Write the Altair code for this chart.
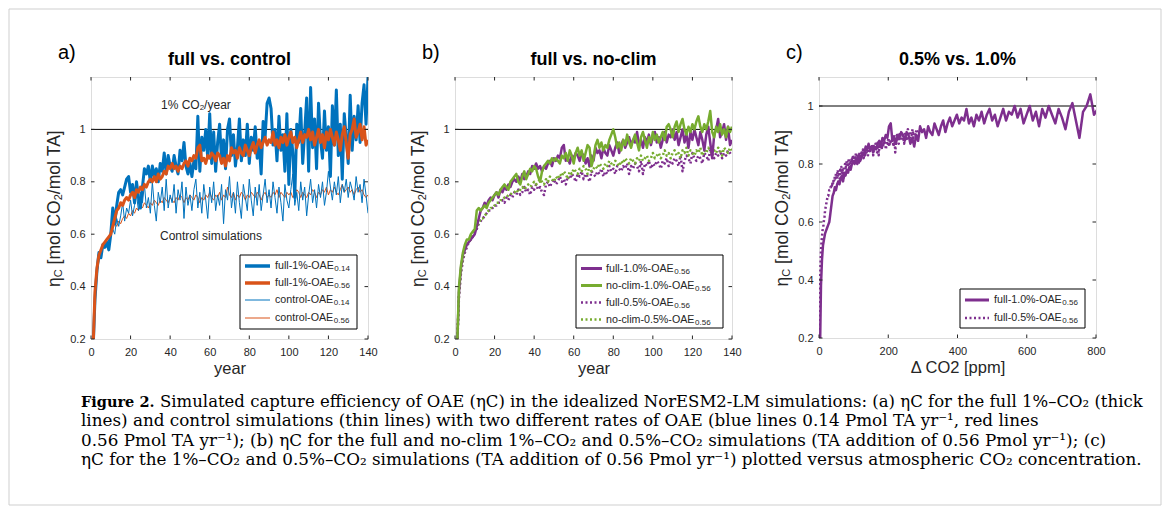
import altair as alt
import pandas as pd

# ---------------- data ----------------
years = list(range(1, 141))

full_1pct_oae014 = [
    0.15, 0.35, 0.46, 0.53, 0.51, 0.56, 0.55, 0.57, 0.54, 0.60,
    0.70, 0.64, 0.71, 0.76, 0.77, 0.75, 0.78, 0.81, 0.82, 0.76,
    0.79, 0.72, 0.80, 0.74, 0.70, 0.78, 0.85, 0.83, 0.86, 0.80,
    0.86, 0.82, 0.85, 0.80, 0.87, 0.84, 0.91, 0.83, 0.90, 0.86,
    0.84, 0.90, 0.86, 0.83, 0.92, 0.88, 0.95, 0.86, 0.83, 0.87,
    0.82, 0.88, 0.85, 1.05, 0.84, 0.97, 0.92, 1.00, 0.89, 1.06,
    0.87, 0.99, 0.84, 0.95, 1.02, 0.88, 0.96, 0.85, 1.00, 1.04,
    0.90, 0.98, 0.86, 0.93, 1.04, 0.88, 0.96, 0.90, 1.02, 0.87,
    0.97, 0.92, 1.01, 0.89, 0.95, 0.83, 1.03, 0.97, 1.10, 1.12,
    1.08, 0.94, 1.00, 0.88, 1.05, 0.92, 0.98, 0.84, 1.06, 0.79,
    1.00, 0.91, 0.74, 1.02, 0.95, 1.08, 0.87, 0.99, 1.12, 0.84,
    1.16, 0.93, 1.04, 0.85, 1.10, 0.96, 0.89, 1.07, 0.92, 1.01,
    0.82, 1.09, 0.94, 1.15, 0.90, 1.02, 0.81, 1.06, 0.97, 0.87,
    1.13, 0.92, 1.05, 0.96, 1.09, 0.95, 1.10, 1.17, 1.02, 1.20,
]

full_1pct_oae056 = [
    0.15, 0.38, 0.47, 0.52, 0.54, 0.56, 0.57, 0.58, 0.59, 0.60,
    0.63, 0.66, 0.69, 0.70, 0.72, 0.71, 0.73, 0.74, 0.73, 0.75,
    0.76, 0.74, 0.77, 0.76, 0.78, 0.77, 0.79, 0.78, 0.80, 0.81,
    0.80, 0.82, 0.80, 0.83, 0.81, 0.82, 0.84, 0.83, 0.86, 0.85,
    0.87, 0.85, 0.86, 0.84, 0.86, 0.85, 0.87, 0.88, 0.86, 0.89,
    0.88, 0.90, 0.89, 0.93, 0.94, 0.88, 0.89, 0.87, 0.90, 0.89,
    0.91, 0.90, 0.88, 0.91, 0.90, 0.87, 0.89, 0.86, 0.90, 0.88,
    0.93, 0.91, 0.92, 0.89, 0.93, 0.91, 0.90, 0.94, 0.92, 0.90,
    0.93, 0.95, 0.91, 0.94, 0.96, 0.93, 0.95, 0.97, 0.94, 0.96,
    0.95, 0.99, 0.94, 0.96, 0.93, 0.97, 0.95, 0.98, 0.94, 0.97,
    0.99, 0.95, 0.97, 0.93, 0.96, 0.99, 0.95, 0.98, 0.97, 1.00,
    0.96, 0.99, 0.94, 0.97, 1.00, 0.95, 0.98, 0.93, 0.99, 0.96,
    1.00, 0.97, 0.94, 0.99, 0.96, 0.92, 0.98, 1.01, 0.95, 0.89,
    0.98, 1.00, 1.04, 0.97, 0.99, 1.02, 0.96, 1.01, 0.94, 0.96,
]

control_oae014 = [
    0.15, 0.36, 0.45, 0.50, 0.52, 0.55, 0.56, 0.55, 0.58, 0.60,
    0.62, 0.60, 0.66, 0.63, 0.67, 0.72, 0.65, 0.70, 0.68, 0.73,
    0.67, 0.71, 0.75, 0.69, 0.76, 0.72, 0.79, 0.70, 0.74, 0.68,
    0.80, 0.71, 0.65, 0.76, 0.72, 0.78, 0.69, 0.81, 0.70, 0.75,
    0.72, 0.79, 0.68, 0.77, 0.73, 0.80, 0.66, 0.78, 0.71, 0.75,
    0.69, 0.77, 0.81, 0.70, 0.76, 0.68, 0.79, 0.73, 0.66, 0.78,
    0.72, 0.80, 0.69, 0.75, 0.71, 0.79, 0.64, 0.77, 0.73, 0.82,
    0.70, 0.76, 0.68, 0.80, 0.72, 0.66, 0.79, 0.74, 0.69, 0.81,
    0.73, 0.67, 0.78, 0.71, 0.79, 0.69, 0.75, 0.81, 0.72, 0.77,
    0.70, 0.80, 0.74, 0.68, 0.78, 0.72, 0.65, 0.79, 0.73, 0.70,
    0.77, 0.83, 0.71, 0.76, 0.69, 0.80, 0.73, 0.78, 0.67, 0.75,
    0.81, 0.72, 0.77, 0.70, 0.79, 0.74, 0.80, 0.71, 0.76, 0.84,
    0.78, 0.73, 0.80, 0.75, 0.82, 0.72, 0.79, 0.76, 0.81, 0.74,
    0.80, 0.77, 0.73, 0.82, 0.76, 0.79, 0.72, 0.81, 0.75, 0.68,
]

control_oae056 = [
    0.15, 0.37, 0.46, 0.51, 0.54, 0.56, 0.57, 0.58, 0.59, 0.60,
    0.62, 0.64, 0.63, 0.65, 0.64, 0.66, 0.67, 0.66, 0.68, 0.67,
    0.69, 0.68, 0.70, 0.69, 0.71, 0.70, 0.72, 0.71, 0.70, 0.72,
    0.71, 0.73, 0.72, 0.71, 0.73, 0.72, 0.74, 0.73, 0.72, 0.74,
    0.73, 0.72, 0.74, 0.73, 0.75, 0.74, 0.72, 0.74, 0.73, 0.75,
    0.74, 0.73, 0.75, 0.74, 0.72, 0.74, 0.73, 0.75, 0.74, 0.76,
    0.74, 0.73, 0.75, 0.74, 0.76, 0.73, 0.75, 0.74, 0.78, 0.75,
    0.74, 0.76, 0.73, 0.75, 0.74, 0.76, 0.75, 0.73, 0.75, 0.74,
    0.76, 0.75, 0.74, 0.76, 0.75, 0.73, 0.75, 0.76, 0.74, 0.75,
    0.74, 0.76, 0.75, 0.77, 0.74, 0.76, 0.75, 0.74, 0.76, 0.75,
    0.76, 0.74, 0.75, 0.77, 0.76, 0.74, 0.76, 0.75, 0.74, 0.76,
    0.75, 0.77, 0.76, 0.74, 0.76, 0.75, 0.77, 0.76, 0.78, 0.75,
    0.77, 0.76, 0.78, 0.76, 0.75, 0.77, 0.79, 0.76, 0.77, 0.78,
    0.76, 0.77, 0.75, 0.77, 0.78, 0.76, 0.77, 0.75, 0.74, 0.75,
]

noclim_1pct_oae056 = [
    0.15, 0.40, 0.48, 0.53, 0.56, 0.58, 0.58, 0.60, 0.61, 0.62,
    0.69, 0.70, 0.69, 0.70, 0.71, 0.70, 0.72, 0.73, 0.74, 0.75,
    0.76, 0.75, 0.77, 0.78, 0.79, 0.78, 0.77, 0.80, 0.81, 0.82,
    0.83, 0.80, 0.79, 0.82, 0.84, 0.81, 0.83, 0.85, 0.84, 0.86,
    0.85, 0.82, 0.80, 0.84, 0.86, 0.87, 0.88, 0.87, 0.89, 0.88,
    0.89, 0.88, 0.87, 0.90, 0.89, 0.91, 0.88, 0.92, 0.90, 0.87,
    0.91, 0.93, 0.90, 0.92, 0.88, 0.91, 0.94, 0.93, 0.86, 0.89,
    0.94, 0.96, 0.93, 0.95, 0.92, 0.94, 0.93, 0.96, 0.98, 1.00,
    0.97, 0.93, 0.95, 0.92, 0.96, 0.94, 0.98, 0.95, 0.93, 0.96,
    0.98, 0.95, 0.92, 0.97, 0.99, 0.96, 0.93, 0.97, 0.95, 0.99,
    0.96, 0.98, 0.95, 0.97, 0.99, 0.96, 1.01, 1.02, 1.00, 0.97,
    1.01, 1.03, 0.99, 1.02, 1.04, 1.00, 0.98, 1.01, 0.99, 1.02,
    1.00, 1.03, 1.05, 1.01, 0.99, 1.02, 1.00, 1.03, 1.07, 0.99,
    0.97, 1.01, 0.99, 1.02, 0.98, 1.00, 0.97, 1.01, 0.99, 1.01,
]

full_05pct_oae056 = [
    0.15, 0.36, 0.45, 0.50, 0.53, 0.55, 0.57, 0.58, 0.59, 0.61,
    0.62, 0.64, 0.65, 0.66, 0.67, 0.68, 0.69, 0.69, 0.70, 0.71,
    0.71, 0.72, 0.72, 0.73, 0.72, 0.74, 0.73, 0.75, 0.74, 0.76,
    0.75, 0.77, 0.75, 0.76, 0.78, 0.76, 0.77, 0.75, 0.78, 0.77,
    0.79, 0.77, 0.78, 0.76, 0.75, 0.79, 0.80, 0.78, 0.80, 0.81,
    0.79, 0.80, 0.82, 0.80, 0.81, 0.79, 0.82, 0.81, 0.83, 0.82,
    0.80, 0.83, 0.82, 0.84, 0.81, 0.83, 0.82, 0.80, 0.84, 0.83,
    0.82, 0.84, 0.83, 0.85, 0.82, 0.84, 0.83, 0.86, 0.84, 0.85,
    0.83, 0.86, 0.85, 0.84, 0.86, 0.85, 0.87, 0.83, 0.86, 0.85,
    0.87, 0.86, 0.84, 0.88, 0.83, 0.87, 0.86, 0.88, 0.85, 0.87,
    0.86, 0.88, 0.87, 0.85, 0.88, 0.87, 0.89, 0.86, 0.88, 0.87,
    0.89, 0.88, 0.86, 0.90, 0.84, 0.88, 0.90, 0.89, 0.87, 0.91,
    0.89, 0.88, 0.90, 0.89, 0.87, 0.91, 0.90, 0.88, 0.92, 0.90,
    0.89, 0.91, 0.90, 0.92, 0.89, 0.91, 0.90, 0.92, 0.91, 0.90,
]

noclim_05pct_oae056 = [
    0.15, 0.37, 0.46, 0.51, 0.54, 0.56, 0.57, 0.58, 0.60, 0.61,
    0.63, 0.64, 0.66, 0.66, 0.67, 0.68, 0.69, 0.70, 0.70, 0.71,
    0.72, 0.72, 0.73, 0.73, 0.74, 0.74, 0.75, 0.75, 0.76, 0.76,
    0.77, 0.76, 0.77, 0.78, 0.77, 0.78, 0.79, 0.78, 0.79, 0.80,
    0.79, 0.80, 0.81, 0.80, 0.79, 0.81, 0.80, 0.82, 0.81, 0.80,
    0.82, 0.81, 0.83, 0.82, 0.84, 0.83, 0.81, 0.84, 0.83, 0.85,
    0.84, 0.83, 0.85, 0.84, 0.86, 0.85, 0.83, 0.86, 0.84, 0.85,
    0.86, 0.85, 0.87, 0.86, 0.85, 0.87, 0.86, 0.88, 0.87, 0.86,
    0.88, 0.87, 0.86, 0.88, 0.87, 0.89, 0.88, 0.87, 0.89, 0.88,
    0.87, 0.89, 0.88, 0.90, 0.88, 0.89, 0.90, 0.88, 0.89, 0.91,
    0.89, 0.90, 0.91, 0.89, 0.90, 0.92, 0.90, 0.91, 0.89, 0.91,
    0.92, 0.90, 0.91, 0.89, 0.92, 0.91, 0.93, 0.90, 0.92, 0.91,
    0.90, 0.92, 0.91, 0.93, 0.90, 0.92, 0.91, 0.93, 0.92, 0.90,
    0.92, 0.91, 0.93, 0.92, 0.90, 0.93, 0.92, 0.91, 0.93, 0.92,
]

for arr in (full_1pct_oae014, full_1pct_oae056, control_oae014, control_oae056,
            noclim_1pct_oae056, full_05pct_oae056, noclim_05pct_oae056):
    assert len(arr) == len(years)

x_ticks_year = [0, 20, 40, 60, 80, 100, 120, 140]
x_ticks_co2 = [0, 200, 400, 600, 800]
y_ticks = [0.2, 0.4, 0.6, 0.8, 1.0]
ref_level = [1.0]
pi_co2 = 284.3                      # pre-industrial CO2 (ppm)
growth_1pct, growth_05pct = 1.01, 1.005

legend_a = [("full-1%-OAE", "0.14"), ("full-1%-OAE", "0.56"),
            ("control-OAE", "0.14"), ("control-OAE", "0.56")]
legend_b = [("full-1.0%-OAE", "0.56"), ("no-clim-1.0%-OAE", "0.56"),
            ("full-0.5%-OAE", "0.56"), ("no-clim-0.5%-OAE", "0.56")]
legend_c = [("full-1.0%-OAE", "0.56"), ("full-0.5%-OAE", "0.56")]

caption_bold = "Figure 2."
caption_lines = [
    "Simulated capture efficiency of OAE (ηC) in the idealized NorESM2-LM simulations: (a) ηC for the full 1%–CO₂ (thick",
    "lines) and control simulations (thin lines) with two different rates of OAE (blue lines 0.14 Pmol TA yr⁻¹, red lines",
    "0.56 Pmol TA yr⁻¹); (b) ηC for the full and no-clim 1%–CO₂ and 0.5%–CO₂ simulations (TA addition of 0.56 Pmol yr⁻¹); (c)",
    "ηC for the 1%–CO₂ and 0.5%–CO₂ simulations (TA addition of 0.56 Pmol yr⁻¹) plotted versus atmospheric CO₂ concentration.",
]

# ---------------- styling ----------------
BLUE, ORANGE, PURPLE, GREEN = "#0072BD", "#D95319", "#7E2F8E", "#77AC30"
INK = "#262626"
FONT = "Liberation Sans"
SERIF = "DejaVu Serif"
W = 277
DOT = [2, 2.5]
NB = "\u00a0"

ARIAL = {' ': 278, NB: 278, '%': 889, '-': 333, '.': 278, '/': 278, '[': 278, ']': 278,
         'A': 667, 'C': 722, 'E': 667, 'O': 778, 'T': 611,
         'a': 556, 'c': 500, 'e': 556, 'f': 278, 'i': 222, 'l': 222, 'm': 833,
         'n': 556, 'o': 556, 'r': 333, 's': 500, 't': 278, 'u': 556, 'y': 500,
         'η': 556}


def tw(s, size):
    return sum(ARIAL.get(ch, 556) for ch in s) * size / 1000.0


ONE = pd.DataFrame({"k": [0]})


def txt(s, x, y, size, font=FONT, weight="normal", align="left", baseline="middle",
        color=INK, angle=0, dx=0, dy=0):
    kw = dict(text=s, fontSize=size, font=font, fontWeight=weight, align=align,
              baseline=baseline, color=color)
    if angle:
        kw["angle"] = angle
    if dx:
        kw["dx"] = dx
    if dy:
        kw["dy"] = dy
    return alt.Chart(ONE).mark_text(**kw).encode(x=alt.value(x), y=alt.value(y))


def xenc(dom, ticks, title):
    return alt.X("x:Q", scale=alt.Scale(domain=dom, nice=False, zero=False),
                 axis=alt.Axis(values=ticks, title=title, ticks=False, domain=False, grid=False,
                               labelFontSize=11, labelColor=INK, labelFont=FONT, labelPadding=7,
                               labelFlush=False, labelOverlap=False, format="~r",
                               titleFontSize=16.5, titleFontWeight="normal", titleColor=INK,
                               titleFont=FONT, titlePadding=3))


def yenc(dom):
    return alt.Y("y:Q", scale=alt.Scale(domain=dom, nice=False, zero=False),
                 axis=alt.Axis(values=y_ticks, title=None, ticks=False, domain=False, grid=False,
                               labelFontSize=11, labelColor=INK, labelFont=FONT, labelPadding=6,
                               labelFlush=False, labelOverlap=False, format="~r"))


def year_df(values):
    return pd.DataFrame({"year": years, "x": years, "y": values})


def co2_df(values):
    return pd.DataFrame({"year": years, "y": values})


def panel(letter, title, H, xdom, ydom, xticks, xtitle, draw_lines, legend_styles, legend,
          legend_geom, before, after):
    layers = list(before)
    layers.append(alt.Chart(pd.DataFrame({"y": ref_level})).mark_rule(color="black", strokeWidth=1)
                  .encode(y=yenc(ydom)))
    for base, color, width, dash in draw_lines:
        kw = dict(color=color, strokeWidth=width, clip=True, strokeJoin="round")
        if dash:
            kw["strokeDash"] = dash
            kw["strokeCap"] = "butt"
        layers.append(base.mark_line(**kw).encode(x=xenc(xdom, xticks, xtitle), y=yenc(ydom)))
    # inward ticks on all four sides (MATLAB box)
    dx_ = pd.DataFrame({"x": xticks})
    dy_ = pd.DataFrame({"y": y_ticks})
    T = 3.5
    layers.append(alt.Chart(dx_).mark_rule(color=INK, strokeWidth=1).encode(
        x=xenc(xdom, xticks, xtitle), y=alt.value(H), y2=alt.value(H - T)))
    layers.append(alt.Chart(dx_).mark_rule(color=INK, strokeWidth=1).encode(
        x=xenc(xdom, xticks, xtitle), y=alt.value(0), y2=alt.value(T)))
    layers.append(alt.Chart(dy_).mark_rule(color=INK, strokeWidth=1).encode(
        y=yenc(ydom), x=alt.value(0), x2=alt.value(T)))
    layers.append(alt.Chart(dy_).mark_rule(color=INK, strokeWidth=1).encode(
        y=yenc(ydom), x=alt.value(W), x2=alt.value(W - T)))
    # panel letter and title
    layers.append(txt(letter, -33, -18, 20, baseline="alphabetic", color="black"))
    layers.append(txt(title, W / 2, -17, 18, weight="bold", align="center", color="black"))
    # y-axis title with subscripts (rotated); (text, size, dy, gap before)
    big, small = 17.5, 11
    pieces = [("η", big, 0, 0), ("C", small, 3.5, 0), ("[mol" + NB + "CO", big, 0, tw(" ", big)),
              ("2", small, 3.5, 0), ("/mol" + NB + "TA]", big, 0, 0)]
    total = sum(tw(p, s) + g for p, s, _, g in pieces)
    off = -total / 2
    for p, s, d, g in pieces:
        off += g
        layers.append(txt(p, -36, H / 2, s, angle=270, dx=off, dy=d))
        off += tw(p, s)
    # legend
    bx1, by1, bx2, by2, lx1, lx2, tx, rows = legend_geom
    layers.append(alt.Chart(ONE).mark_rect(fill="white", stroke="black", strokeWidth=1).encode(
        x=alt.value(bx1), x2=alt.value(bx2), y=alt.value(by1), y2=alt.value(by2)))
    for (main, sub), (color, width, dash), ry in zip(legend, legend_styles, rows):
        kw = dict(color=color, strokeWidth=width)
        if dash:
            kw["strokeDash"] = dash
            kw["strokeCap"] = "butt"
        layers.append(alt.Chart(ONE).mark_rule(**kw).encode(
            x=alt.value(lx1), x2=alt.value(lx2), y=alt.value(ry)))
        layers.append(txt(main, tx, ry, 10.7))
        layers.append(txt(sub, tx + tw(main, 10.7) + 0.5, ry, 8, dy=3))
    layers += list(after)
    return alt.layer(*layers).properties(width=W, height=H)


# ---------------- panel a (also carries the frame and caption) ----------------
H_ab = 262
caption_sizes = [16.5, 16.8, 16.8, 16.8]
base_y, lead = 329.5, 19.6
caption_layers = [txt(caption_bold, -10, base_y, 14.5, font=SERIF, weight="bold",
                      baseline="alphabetic", color="black"),
                  txt(caption_lines[0], 69, base_y, caption_sizes[0], font=SERIF,
                      baseline="alphabetic", color="black")]
for i in range(1, 4):
    caption_layers.append(txt(caption_lines[i], -10, base_y + lead * i, caption_sizes[i], font=SERIF,
                              baseline="alphabetic", color="black"))

frame = alt.Chart(ONE).mark_rect(fillOpacity=0, stroke="#cfcfcf", strokeWidth=1).encode(
    x=alt.value(-82), x2=alt.value(1070), y=alt.value(-68), y2=alt.value(428))

w1 = tw("1% CO", 12)
annot_a = [
    txt("1%" + NB + "CO", 70, 28, 12),
    txt("2", 70 + w1, 28, 8, dy=3),
    txt("/year", 70 + w1 + tw("2", 8), 28, 12),
    txt("Control simulations", 69, 159, 12),
]

s_f14 = (alt.Chart(year_df(full_1pct_oae014)), BLUE, 3, None)
s_f56 = (alt.Chart(year_df(full_1pct_oae056)), ORANGE, 3, None)
s_c14 = (alt.Chart(year_df(control_oae014)), BLUE, 1, None)
s_c56 = (alt.Chart(year_df(control_oae056)), ORANGE, 1, None)

pa = panel("a)", "full vs. control", H_ab, [0, 140], [0.2, 1.2], x_ticks_year, "year",
           [s_c56, s_c14, s_f14, s_f56],
           [(BLUE, 3.5, None), (ORANGE, 3.5, None), (BLUE, 1, None), (ORANGE, 1, None)],
           legend_a, (149, 178, 266, 252, 154, 179, 184, [189, 206, 223, 241]),
           [frame], annot_a + caption_layers)

# ---------------- panel b ----------------
s_pf10 = (alt.Chart(year_df(full_1pct_oae056)), PURPLE, 2.5, None)
s_gn10 = (alt.Chart(year_df(noclim_1pct_oae056)), GREEN, 2.5, None)
s_pf05 = (alt.Chart(year_df(full_05pct_oae056)), PURPLE, 2.5, DOT)
s_gn05 = (alt.Chart(year_df(noclim_05pct_oae056)), GREEN, 2.5, DOT)

pb = panel("b)", "full vs. no-clim", H_ab, [0, 140], [0.2, 1.2], x_ticks_year, "year",
           [s_pf05, s_gn05, s_pf10, s_gn10],
           [(PURPLE, 3, None), (GREEN, 3, None), (PURPLE, 2.5, DOT), (GREEN, 2.5, DOT)],
           legend_b, (121, 178, 268, 251, 126, 147, 151, [191.5, 208.5, 225.5, 242.5]),
           [], [])

# ---------------- panel c ----------------
H_c = 261
s_c10 = (alt.Chart(co2_df(full_1pct_oae056)).transform_calculate(
    x=f"{pi_co2} * (pow({growth_1pct}, datum.year) - 1)"), PURPLE, 2.5, None)
s_c05 = (alt.Chart(co2_df(full_05pct_oae056)).transform_calculate(
    x=f"{pi_co2} * (pow({growth_05pct}, datum.year) - 1)"), PURPLE, 2.5, DOT)

pc = panel("c)", "0.5% vs. 1.0%", H_c, [0, 800], [0.2, 1.1], x_ticks_co2, "Δ CO2 [ppm]",
           [s_c05, s_c10],
           [(PURPLE, 3, None), (PURPLE, 2.5, DOT)],
           legend_c, (141, 212, 266, 251, 146, 170, 175, [223, 241]),
           [], [])

chart = alt.hconcat(pa, pb, pc, spacing=87, bounds="flush").properties(
    padding={"left": 8, "top": 8, "right": 0, "bottom": 0},
    background="white",
).configure_view(stroke="#1a1a1a", strokeWidth=1).configure(font=FONT)

chart.save("out.html", embed_options={"renderer": "svg", "actions": False})
